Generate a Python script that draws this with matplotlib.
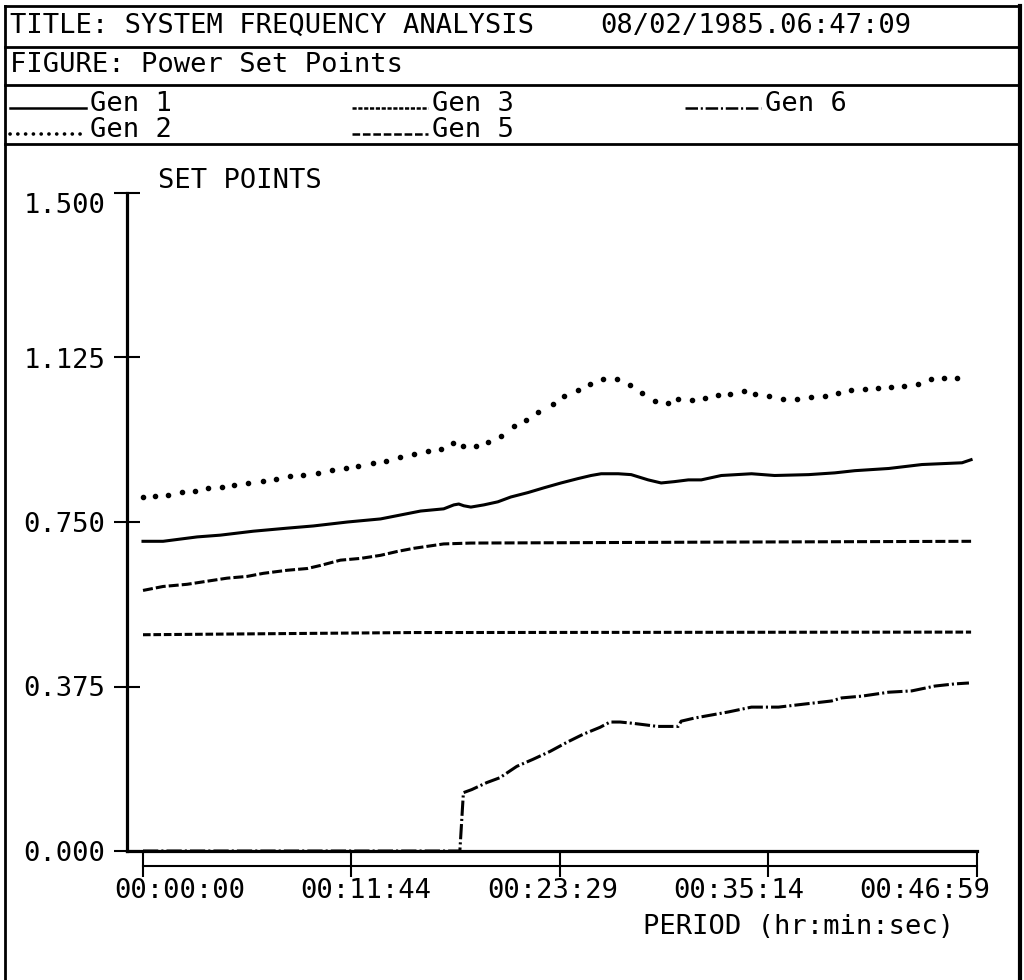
import matplotlib
matplotlib.use("Agg")
import matplotlib.pyplot as plt
import matplotlib.transforms as mtransforms
from matplotlib.lines import Line2D

plt.rcParams['font.family'] = ['DejaVu Sans Mono', 'DejaVu Sans']
plt.rcParams['lines.scale_dashes'] = False

# ---- data: time in minutes, power set point in p.u. ----
gen1_t = [0, 1.13, 3.05, 4.35, 6.21, 8.13, 9.60, 11.52, 13.38, 14.51, 15.64, 16.94,
          17.51, 17.79, 18.07, 18.47, 19.20, 19.99, 20.72, 21.68, 22.59, 23.55, 24.51,
          25.24, 25.81, 26.77, 27.50, 28.46, 29.19, 29.93, 30.72, 31.45, 32.58, 34.28,
          35.58, 37.50, 38.97, 40.10, 42.01, 43.88, 45.01, 46.14, 46.65]
gen1_v = [0.706, 0.706, 0.716, 0.720, 0.729, 0.736, 0.741, 0.750, 0.757, 0.766, 0.775, 0.780,
          0.789, 0.791, 0.787, 0.784, 0.789, 0.796, 0.807, 0.817, 0.828, 0.839, 0.849,
          0.856, 0.860, 0.860, 0.858, 0.846, 0.839, 0.842, 0.846, 0.846, 0.856, 0.860,
          0.856, 0.858, 0.862, 0.867, 0.872, 0.881, 0.883, 0.885, 0.892]

gen2_t = [0, 0.68, 1.41, 2.20, 2.94, 3.67, 4.46, 5.14, 5.93, 6.78, 7.51, 8.30, 9.03,
          9.88, 10.67, 11.46, 12.14, 12.93, 13.67, 14.46, 15.25, 16.04, 16.77, 17.45,
          18.01, 18.75, 19.43, 20.16, 20.89, 21.57, 22.25, 23.10, 23.72, 24.51, 25.19,
          25.92, 26.71, 27.44, 28.12, 28.86, 29.59, 30.15, 30.95, 31.68, 32.41, 33.09,
          33.83, 34.50, 35.29, 36.08, 36.87, 37.61, 38.40, 39.13, 39.87, 40.66, 41.39,
          42.13, 42.86, 43.65, 44.39, 45.12, 45.85]
gen2_v = [0.807, 0.810, 0.812, 0.819, 0.821, 0.828, 0.830, 0.835, 0.839, 0.844, 0.849,
          0.856, 0.858, 0.862, 0.869, 0.874, 0.878, 0.885, 0.890, 0.899, 0.906, 0.911,
          0.917, 0.931, 0.924, 0.924, 0.933, 0.947, 0.968, 0.982, 1.000, 1.018, 1.037,
          1.050, 1.064, 1.076, 1.076, 1.062, 1.044, 1.025, 1.021, 1.030, 1.028, 1.032,
          1.039, 1.041, 1.048, 1.041, 1.037, 1.030, 1.030, 1.034, 1.037, 1.044, 1.050,
          1.053, 1.055, 1.057, 1.060, 1.064, 1.076, 1.078, 1.078]

gen3_t = [0, 1.13, 2.49, 3.61, 4.74, 5.87, 6.78, 8.13, 9.26, 10.0, 11.12, 12.25, 13.38,
          14.34, 15.25, 16.94, 18.47, 31.45, 46.65]
gen3_v = [0.594, 0.603, 0.608, 0.615, 0.622, 0.626, 0.633, 0.640, 0.644, 0.651, 0.663,
          0.667, 0.674, 0.683, 0.690, 0.700, 0.702, 0.704, 0.706]

gen5_t = [0, 15.25, 46.65]
gen5_v = [0.493, 0.498, 0.499]

gen6_t = [0, 17.85, 18.05, 18.52, 19.37, 20.10, 21.06, 21.97, 22.93, 23.89, 24.79, 25.75,
          26.31, 26.88, 27.61, 28.41, 28.97, 30.15, 30.32, 31.06, 32.02, 32.98, 34.28,
          35.80, 37.27, 38.79, 39.36, 40.49, 42.01, 43.31, 44.61, 45.74, 46.53]
gen6_v = [0.0, 0.0, 0.133, 0.140, 0.156, 0.167, 0.193, 0.209, 0.227, 0.248, 0.266, 0.282,
          0.294, 0.294, 0.291, 0.287, 0.284, 0.284, 0.296, 0.303, 0.310, 0.317, 0.328,
          0.328, 0.335, 0.342, 0.349, 0.353, 0.362, 0.365, 0.376, 0.381, 0.383]

y_ticks = [0.0, 0.375, 0.75, 1.125, 1.5]
y_tick_labels = ['0.000', '0.375', '0.750', '1.125', '1.500']
x_ticks = [0.0, 11 + 44 / 60, 23 + 29 / 60, 35 + 14 / 60, 46 + 59 / 60]
x_tick_labels = ['00:00:00', '00:11:44', '00:23:29', '00:35:14', '00:46:59']

title_text = 'TITLE: SYSTEM FREQUENCY ANALYSIS'
date_text = '08/02/1985.06:47:09'
figure_text = 'FIGURE: Power Set Points'
y_label = 'SET POINTS'
x_label = 'PERIOD (hr:min:sec)'

# ---- layout in pixels ----
W, H = 1024, 980
fig = plt.figure(figsize=(W / 100, H / 100), dpi=100)
fig.patch.set_facecolor('white')


def fx(px):
    return px / W


def fy(py):
    return 1 - py / H


FS = 19.5
INK = 'black'

ax_left, ax_right, ax_top, ax_bottom = 127, 977, 193, 851
ax = fig.add_axes([fx(ax_left), fy(ax_bottom), (ax_right - ax_left) / W,
                   (ax_bottom - ax_top) / H])
x0_px = 143
span = x_ticks[-1] - x_ticks[0]
px_per_min = (ax_right - x0_px) / span
ax.set_xlim(x_ticks[0] - (x0_px - ax_left) / px_per_min, x_ticks[-1])
ax.set_ylim(0, 1.5)
ax.set_facecolor('none')

for side in ('top', 'right'):
    ax.spines[side].set_visible(False)
for side in ('left', 'bottom'):
    ax.spines[side].set_linewidth(2.3)
    ax.spines[side].set_color(INK)

ax.set_yticks(y_ticks, labels=y_tick_labels)
ax.tick_params(axis='y', direction='inout', length=19, width=1.5, pad=6,
               labelsize=FS, colors=INK)
ax.get_yticklabels()[-1].set_va('top')
ax.set_xticks(x_ticks)
ax.tick_params(axis='x', direction='out', length=19, width=1.5,
               labelbottom=False, colors=INK)

# second baseline under the time axis
trans = mtransforms.blended_transform_factory(ax.transData, ax.transAxes)
ax.plot([x_ticks[0], x_ticks[-1]], [-15 / (ax_bottom - ax_top)] * 2,
        transform=trans, color=INK, lw=1.5, clip_on=False)

# series
ax.plot(gen1_t, gen1_v, color=INK, lw=2.2, clip_on=False)
ax.plot(gen2_t, gen2_v, linestyle='none', marker='o', ms=3.0, color=INK,
        clip_on=False)
ax.plot(gen3_t, gen3_v, color=INK, lw=2.2, dashes=(7.2, 2.2), clip_on=False)
ax.plot(gen5_t, gen5_v, color=INK, lw=2.2, dashes=(5.5, 2.0), clip_on=False)
ax.plot(gen6_t, gen6_v, color=INK, lw=2.2, dashes=(11, 2.2, 1.5, 2.2),
        clip_on=False)

# time labels spread across the axis
for i, lab in enumerate(x_tick_labels):
    fig.text(fx(180 + i * 186.25), fy(891), lab, ha='center', va='center',
             size=FS, color=INK)

fig.text(fx(158), fy(188), y_label, ha='left', va='baseline', size=FS, color=INK)
fig.text(fx(954), fy(927), x_label, ha='right', va='center', size=FS, color=INK)

# header block
fig.text(fx(10), fy(26), title_text, ha='left', va='center', size=FS, color=INK)
fig.text(fx(600), fy(26), date_text, ha='left', va='center', size=FS, color=INK)
fig.text(fx(10), fy(65), figure_text, ha='left', va='center', size=FS, color=INK)


def hline(py, x1=5, x2=1020, lw=2.0):
    fig.add_artist(Line2D([fx(x1), fx(x2)], [fy(py), fy(py)], color=INK, lw=lw))


def vline(px, y1=6, y2=980, lw=2.0):
    fig.add_artist(Line2D([fx(px), fx(px)], [fy(y1), fy(y2)], color=INK, lw=lw))


for py in (6, 47, 85, 144):
    hline(py)
vline(5)
vline(1020, lw=3.0)

# legend block
legend_items = [
    ('Gen 1', dict(ls='-'), 10, 104),
    ('Gen 3', dict(dashes=(3.0, 1.2)), 352, 104),
    ('Gen 6', dict(dashes=(9, 2, 1.5, 2)), 685, 104),
    ('Gen 2', dict(dashes=(0.1, 5.5), dash_capstyle='round', lw=2.6), 10, 130),
    ('Gen 5', dict(dashes=(5.5, 2.0)), 352, 130),
]
for label, style, lx, ly in legend_items:
    kw = dict(color=INK, lw=1.8)
    kw.update(style)
    fig.add_artist(Line2D([fx(lx), fx(lx + 76)], [fy(ly + 4), fy(ly + 4)], **kw))
    fig.text(fx(lx + 80), fy(ly), label, ha='left', va='center', size=FS,
             color=INK)

fig.savefig('out.png', dpi=100, facecolor='white')
